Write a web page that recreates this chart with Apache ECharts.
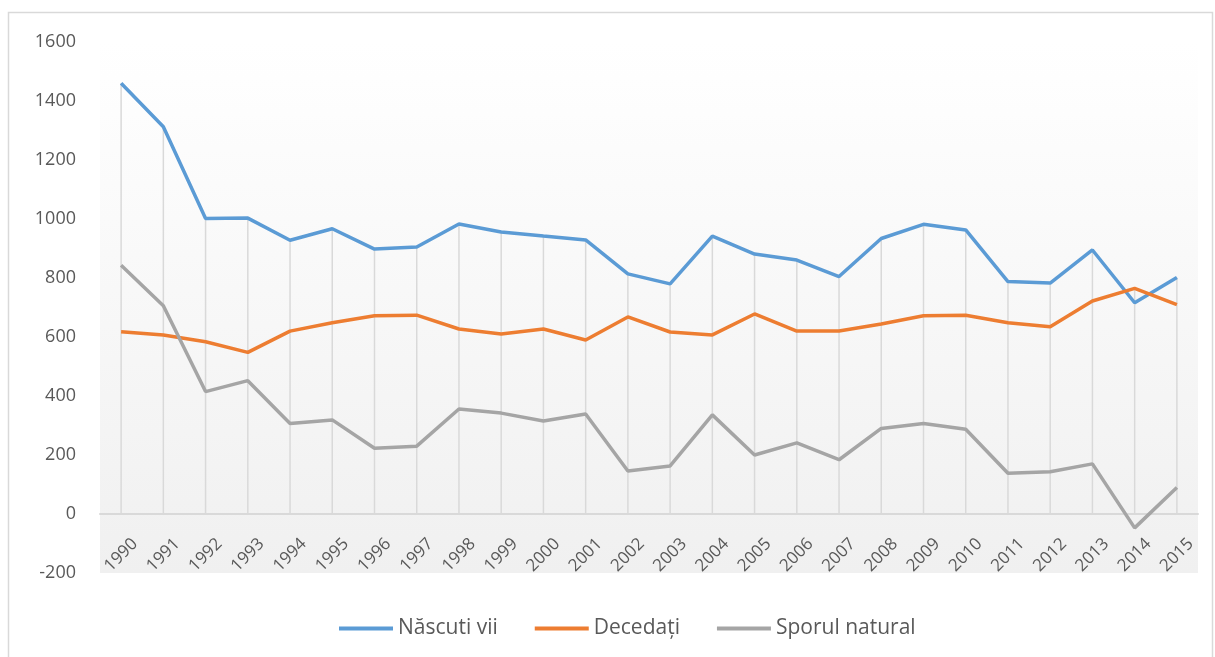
<!DOCTYPE html>
<html>
<head>
<meta charset="utf-8">
<script src="https://cdn.jsdelivr.net/npm/echarts@6/dist/echarts.min.js"></script>
<style>
  html, body { margin: 0; padding: 0; background: #fff; }
  #chart { width: 1215px; height: 657px; }
</style>
</head>
<body>
<div id="chart"></div>
<script>
// ani
const years = ['1990', '1991', '1992', '1993', '1994', '1995', '1996', '1997', '1998', '1999',
  '2000', '2001', '2002', '2003', '2004', '2005', '2006', '2007', '2008', '2009',
  '2010', '2011', '2012', '2013', '2014', '2015']
// Născuti vii
const nascuti = [1460, 1313, 1002, 1003, 928, 967, 898, 905, 983, 956,
  942, 929, 814, 780, 942, 881, 861, 805, 934, 982,
  963, 788, 783, 895, 716, 802]
// Decedați
const decedati = [618, 607, 584, 548, 620, 648, 672, 674, 627, 610,
  627, 590, 668, 617, 607, 678, 620, 620, 644, 672,
  674, 648, 635, 722, 765, 710]
// Sporul natural
const sporul = [843, 706, 415, 452, 307, 319, 223, 230, 356, 342,
  315, 339, 146, 163, 336, 200, 241, 184, 290, 307,
  287, 138, 143, 170, -47, 90]
const yTicks = [-200, 1600, 200]

// linii verticale: de la cel mai inalt punct pana la axa
const dropLines = years.map((y, i) => Math.max(nascuti[i], decedati[i], sporul[i]))

const chart = echarts.init(document.getElementById('chart'))

const font = "'Open Sans', 'Noto Sans', sans-serif"

const option = {
  animation: false,
  textStyle: { fontFamily: font },
  graphic: [{
    type: 'rect',
    shape: { x: 8.5, y: 12.5, width: 1204, height: 660 },
    style: { fill: 'none', stroke: '#d9d9d9', lineWidth: 1.5 },
    silent: true
  }],
  legend: {
    top: 613,
    left: 334,
    data: ['Născuti vii', 'Decedați', 'Sporul natural'],
    itemWidth: 54,
    itemHeight: 4,
    itemGap: 37,
    itemTextGap: 4,
    icon: 'rect',
    textStyle: { color: '#595959', fontSize: 21, fontFamily: font }
  },
  grid: {
    left: 100,
    right: 17,
    top: 42,
    bottom: 84,
    show: true,
    borderWidth: 0,
    backgroundColor: new echarts.graphic.LinearGradient(0, 0, 0, 1, [
      { offset: 0, color: '#ffffff' },
      { offset: 1, color: '#f0f0f0' }
    ])
  },
  xAxis: {
    type: 'category',
    data: years,
    boundaryGap: true,
    axisLine: { onZero: true, lineStyle: { color: '#d9d9d9', width: 2 } },
    axisTick: { show: false },
    axisLabel: {
      rotate: 45,
      interval: 0,
      margin: -18,
      align: 'center',
      verticalAlign: 'middle',
      color: '#595959',
      fontSize: 17,
      fontFamily: font
    },
    splitLine: { show: false }
  },
  yAxis: {
    type: 'value',
    min: yTicks[0],
    max: yTicks[1],
    interval: yTicks[2],
    axisLine: { show: false },
    axisTick: { show: false },
    splitLine: { show: false },
    axisLabel: {
      color: '#595959',
      fontSize: 18,
      margin: 24,
      fontFamily: font,
      formatter: v => String(v)
    }
  },
  series: [{
    name: 'drop',
    type: 'bar',
    data: dropLines,
    barWidth: 1.5,
    itemStyle: { color: '#d9d9d9' },
    silent: true,
    z: 1
  }, {
    name: 'Născuti vii',
    type: 'line',
    data: nascuti,
    symbol: 'none',
    lineStyle: { color: '#5b9bd5', width: 3.5 },
    itemStyle: { color: '#5b9bd5' },
    z: 3
  }, {
    name: 'Decedați',
    type: 'line',
    data: decedati,
    symbol: 'none',
    lineStyle: { color: '#ed7d31', width: 3.5 },
    itemStyle: { color: '#ed7d31' },
    z: 3
  }, {
    name: 'Sporul natural',
    type: 'line',
    data: sporul,
    symbol: 'none',
    lineStyle: { color: '#a5a5a5', width: 3.5 },
    itemStyle: { color: '#a5a5a5' },
    z: 3
  }]
}

chart.setOption(option)
</script>
</body>
</html>
